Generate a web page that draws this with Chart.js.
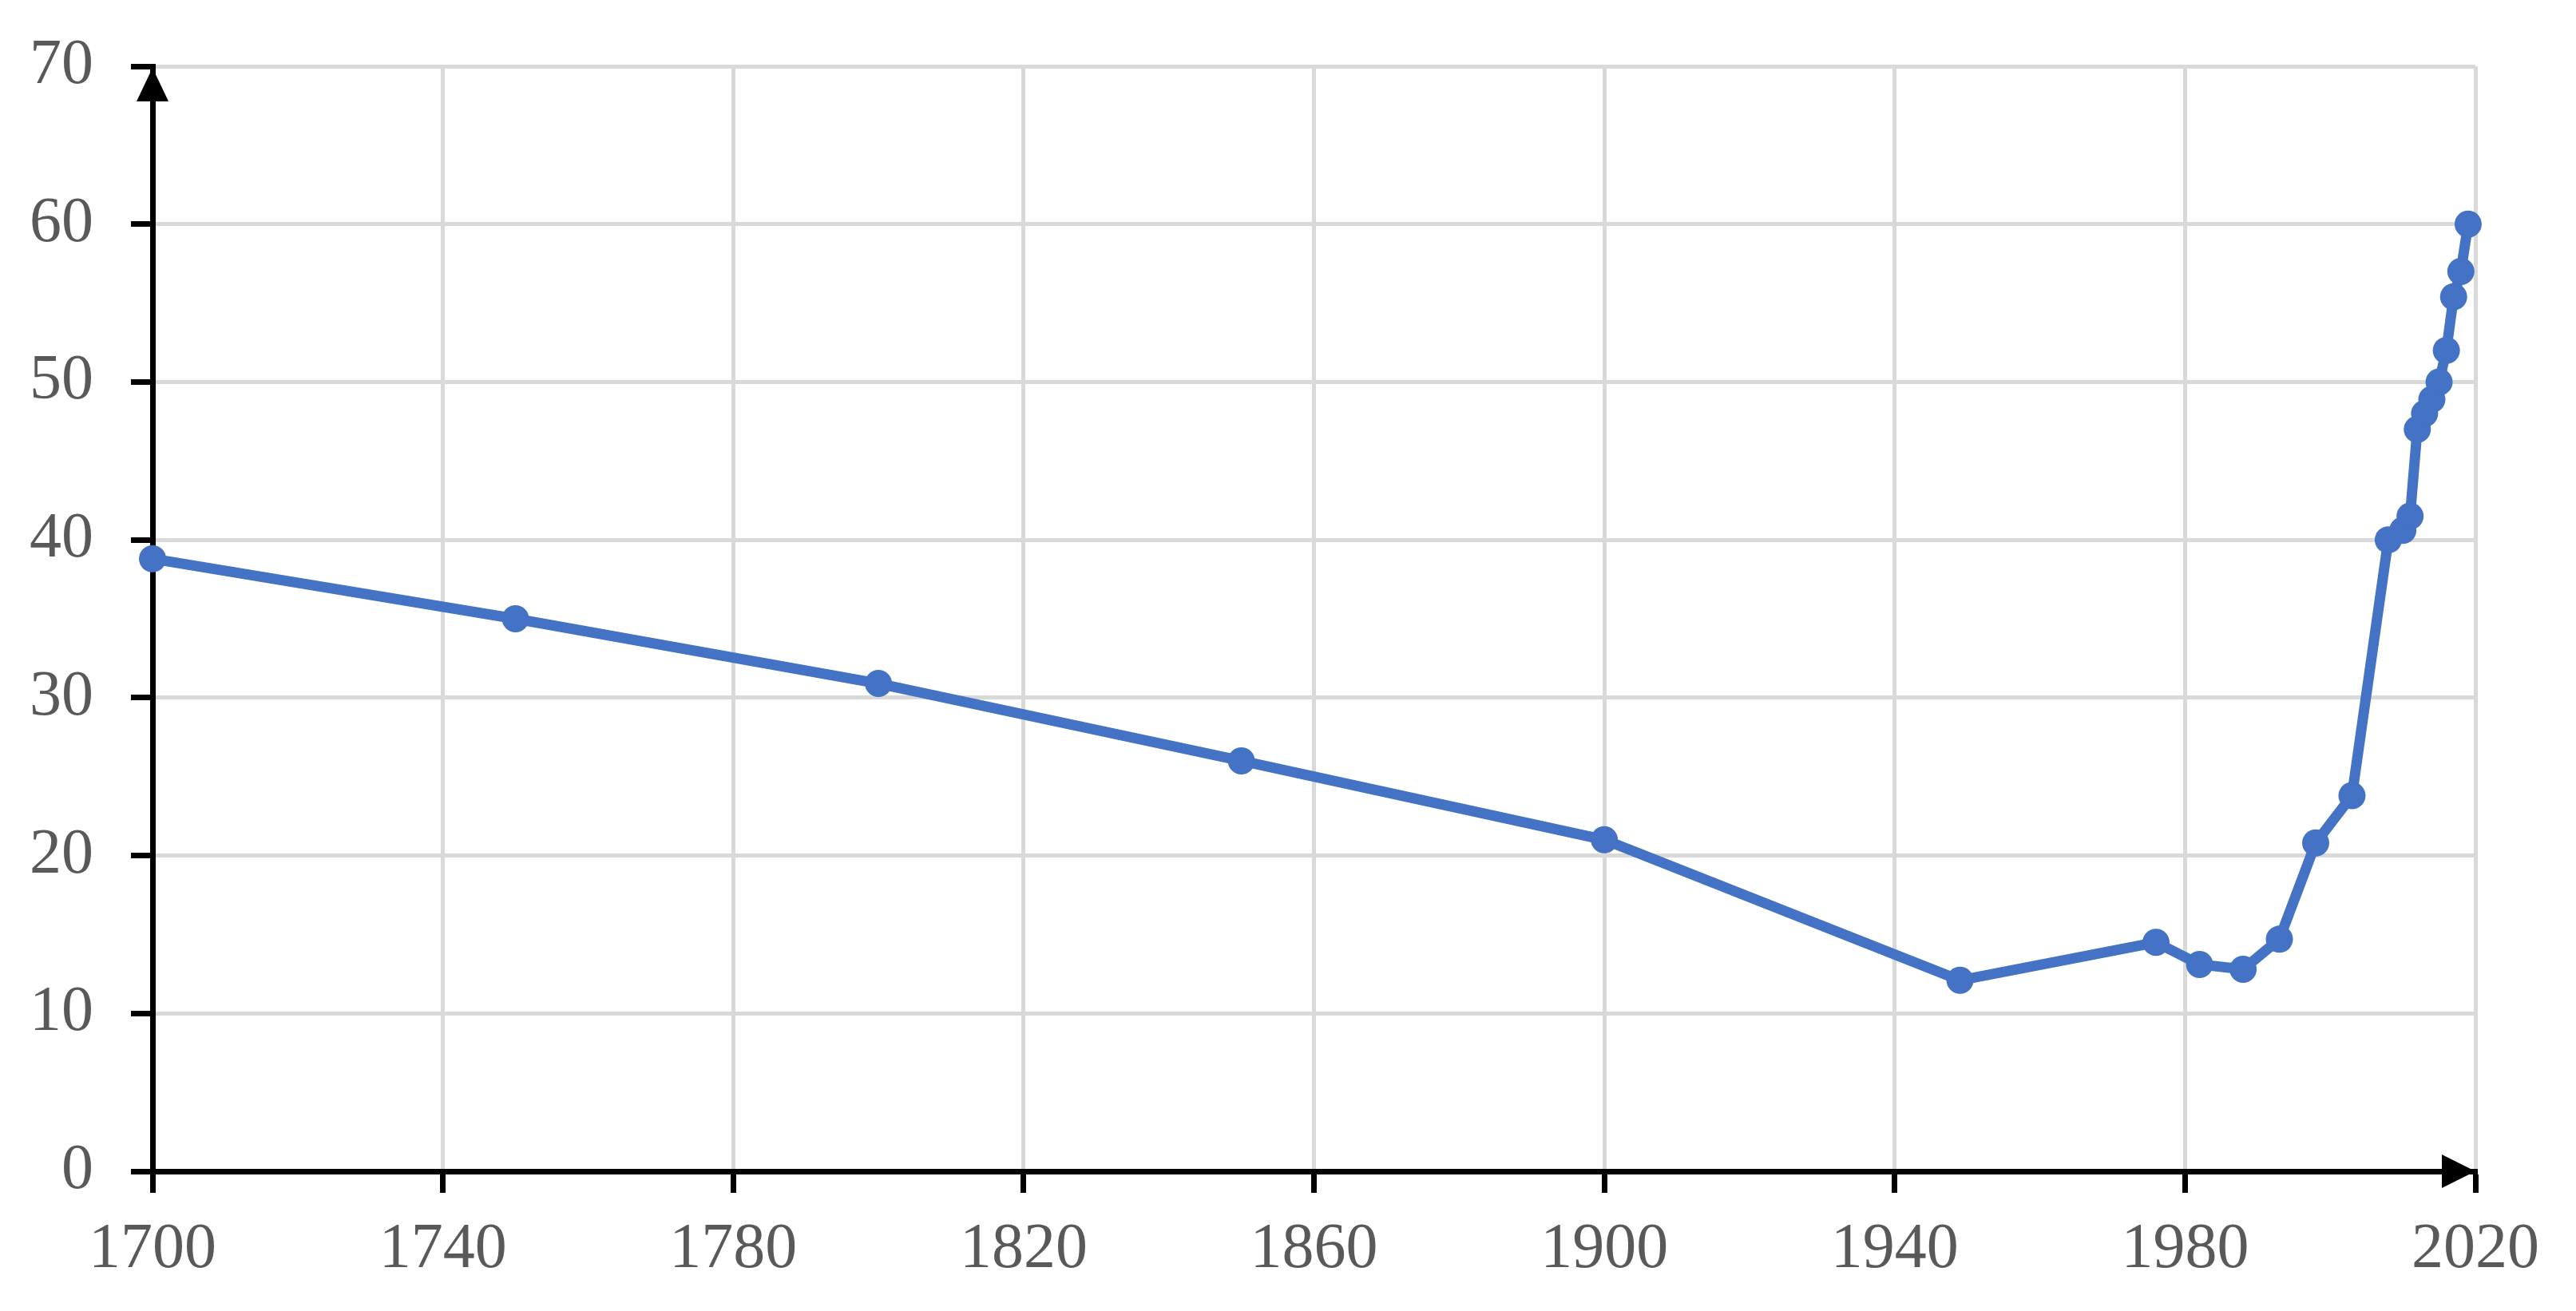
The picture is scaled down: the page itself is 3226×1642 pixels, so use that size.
<!DOCTYPE html>
<html>
<head>
<meta charset="utf-8">
<script src="https://cdn.jsdelivr.net/npm/chart.js@4/dist/chart.umd.min.js"></script>
<style>
  html, body { margin: 0; padding: 0; background: #ffffff; }
  #wrap { width: 3226px; height: 1642px; }
</style>
</head>
<body>
<div id="wrap"><canvas id="c" width="3226" height="1642"></canvas></div>
<script>
const years  = [1700, 1750, 1800, 1850, 1900, 1949, 1976, 1982, 1988, 1993, 1998, 2003, 2008, 2010, 2011, 2012, 2013, 2014, 2015, 2016, 2017, 2018, 2019];
const values = [38.8, 35.0, 30.9, 26.0, 21.0, 12.1, 14.5, 13.1, 12.8, 14.7, 20.8, 23.8, 40.0, 40.6, 41.5, 47.0, 48.0, 48.9, 50.0, 52.0, 55.4, 57.0, 60.0];
const xTicks = [1700, 1740, 1780, 1820, 1860, 1900, 1940, 1980, 2020];
const yTicks = [0, 10, 20, 30, 40, 50, 60, 70];

const points = years.map((y, i) => ({ x: y, y: values[i] }));

const arrowPlugin = {
  id: 'arrows',
  afterDraw(chart) {
    const ctx = chart.ctx;
    const a = chart.chartArea;
    ctx.save();
    ctx.fillStyle = '#000000';
    ctx.beginPath();
    ctx.moveTo(a.left, a.top + 2);
    ctx.lineTo(a.left - 20, a.top + 44);
    ctx.lineTo(a.left + 20, a.top + 44);
    ctx.closePath();
    ctx.fill();
    ctx.beginPath();
    ctx.moveTo(a.right, a.bottom);
    ctx.lineTo(a.right - 42, a.bottom - 21);
    ctx.lineTo(a.right - 42, a.bottom + 21);
    ctx.closePath();
    ctx.fill();
    ctx.restore();
  }
};

const fontFamily = '"Liberation Serif", "Times New Roman", serif';

new Chart(document.getElementById('c'), {
  type: 'line',
  data: {
    datasets: [{
      data: points,
      borderColor: '#4472C4',
      backgroundColor: '#4472C4',
      borderWidth: 13,
      pointRadius: 17,
      pointHoverRadius: 17,
      pointBackgroundColor: '#4472C4',
      pointBorderWidth: 0,
      tension: 0,
      clip: false
    }]
  },
  options: {
    responsive: false,
    animation: false,
    events: [],
    layout: { padding: { top: 40, right: 126, bottom: 0, left: 0 } },
    plugins: { legend: { display: false }, tooltip: { enabled: false } },
    scales: {
      x: {
        type: 'linear',
        min: xTicks[0],
        max: xTicks[xTicks.length - 1],
        afterBuildTicks: (s) => { s.ticks = xTicks.map(v => ({ value: v })); },
        afterFit: (s) => { s.height = 175; },
        grid: { color: '#d9d9d9', lineWidth: 5, tickColor: '#000000', tickWidth: 7, tickLength: 27 },
        border: { display: true, color: '#000000', width: 7 },
        ticks: { font: { family: fontFamily, size: 80 }, color: '#595959', padding: 24, maxRotation: 0, autoSkip: false,
                 callback: (v) => String(v) }
      },
      y: {
        type: 'linear',
        min: yTicks[0],
        max: yTicks[yTicks.length - 1],
        afterBuildTicks: (s) => { s.ticks = yTicks.map(v => ({ value: v })); },
        afterFit: (s) => { s.width = 191; },
        grid: { color: '#d9d9d9', lineWidth: 5, tickColor: '#000000', tickWidth: 7, tickLength: 27 },
        border: { display: true, color: '#000000', width: 7 },
        ticks: { font: { family: fontFamily, size: 80, lineHeight: 0.9 }, color: '#595959', padding: 47, autoSkip: false,
                 callback: (v) => String(v) }
      }
    }
  },
  plugins: [arrowPlugin]
});
</script>
</body>
</html>
